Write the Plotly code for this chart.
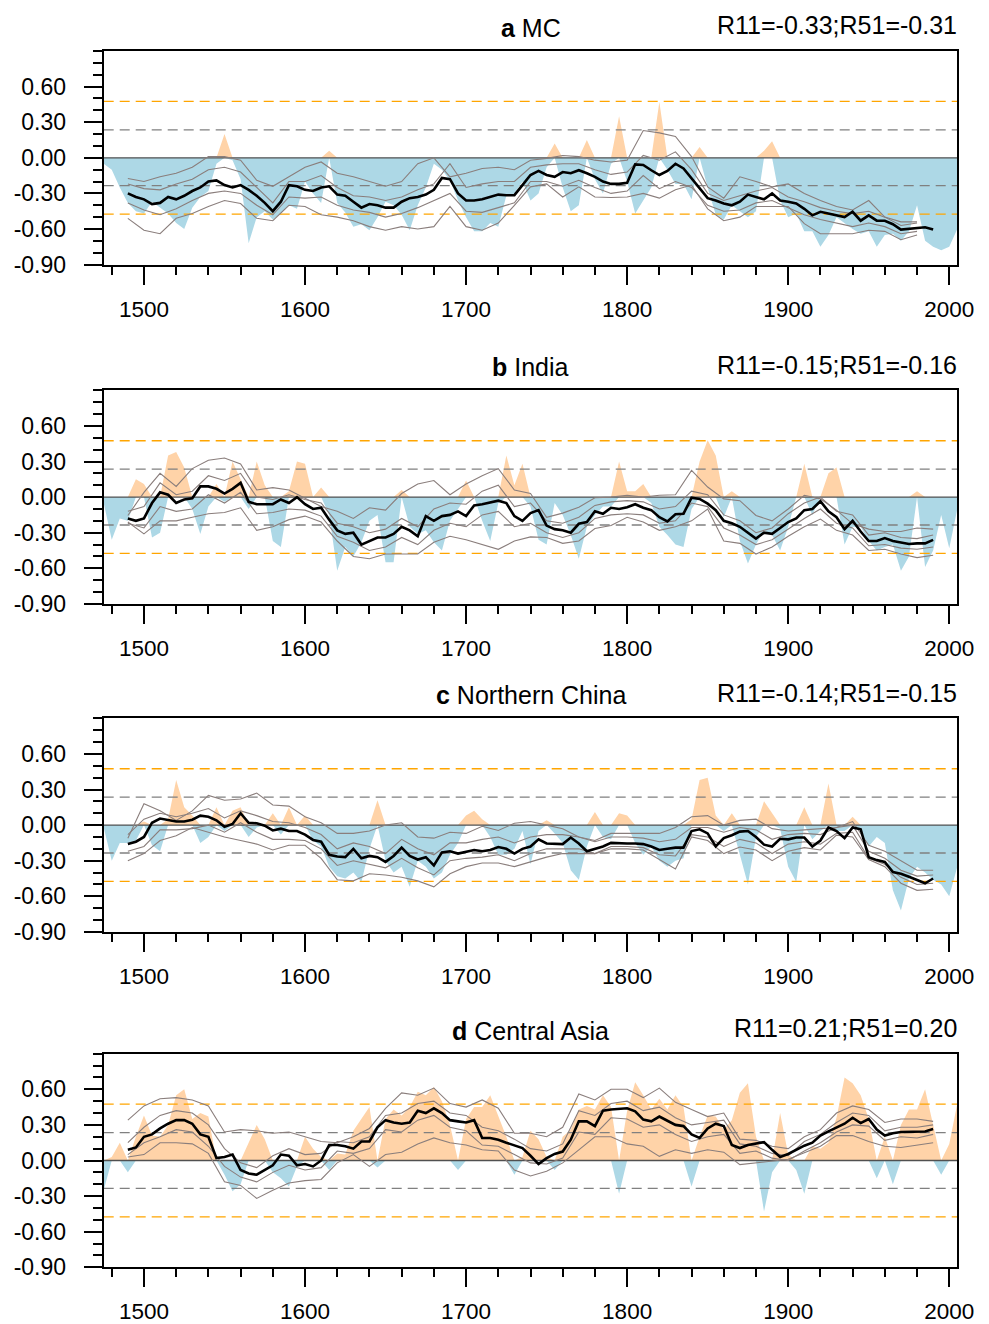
import plotly.graph_objects as go

# ---------------- data ----------------
FILL_YEARS = list(range(1475, 2006, 5))      # yearly correlation (filled)
MEAN_YEARS = list(range(1490, 1991, 5))      # ensemble mean (black)
MEMBER_YEARS = list(range(1490, 1991, 10))   # members (grey)

PANEL_LETTERS = ["a", "b", "c", "d"]
PANEL_NAMES = ["MC", "India", "Northern China", "Central Asia"]
R11 = ["-0.33", "-0.15", "-0.14", "0.21"]
R51 = ["-0.31", "-0.16", "-0.15", "0.20"]

THRESH_INNER = 0.235
THRESH_OUTER = 0.475

X_TICKS = [1500, 1600, 1700, 1800, 1900, 2000]
Y_TICKS = [-0.9, -0.6, -0.3, 0.0, 0.3, 0.6]
X_RANGE = [1475, 2005]
Y_RANGE = [-0.9, 0.9]

FILL_MC = [-0.05, -0.10, -0.25, -0.38, -0.45, -0.47, -0.37, -0.42, -0.47, -0.55,
           -0.60, -0.42, -0.33, -0.28, -0.05, 0.20, -0.02, -0.18, -0.72, -0.50,
           -0.45, -0.52, -0.47, -0.40, -0.43, -0.20, -0.30, -0.38, 0.06, -0.38,
           -0.46, -0.58, -0.56, -0.61, -0.50, -0.37, -0.40, -0.48, -0.61, -0.40,
           -0.25, -0.05, -0.10, -0.19, -0.36, -0.50, -0.62, -0.62, -0.55, -0.58,
           -0.32, -0.30, -0.20, -0.36, -0.30, -0.08, 0.12, -0.25, -0.45, -0.40,
           0.15, -0.18, -0.30, -0.05, 0.35, -0.20, -0.47, -0.36, -0.25, 0.47,
           -0.10, -0.22, -0.22, -0.35, 0.09, -0.25, -0.48, -0.52, -0.40, -0.45,
           -0.50, -0.45, 0.06, 0.14, -0.36, -0.50, -0.47, -0.62, -0.62, -0.75,
           -0.65, -0.50, -0.55, -0.60, -0.64, -0.62, -0.75, -0.65, -0.64, -0.70,
           -0.62, -0.40, -0.70, -0.75, -0.78, -0.75, -0.60]
FILL_INDIA = [-0.05, -0.36, -0.18, -0.20, 0.15, 0.11, -0.34, -0.30, 0.35, 0.38,
              0.25, -0.10, -0.31, -0.08, 0.11, -0.04, 0.30, 0.15, -0.10, 0.30,
              0.10, -0.37, -0.42, 0.05, 0.30, 0.28, 0.00, 0.08, -0.15, -0.62,
              -0.42, -0.50, -0.38, -0.20, -0.15, -0.55, -0.55, 0.06, -0.25, -0.31,
              -0.28, -0.38, -0.45, -0.20, -0.10, 0.14, 0.00, -0.20, -0.37, -0.05,
              0.35, 0.10, 0.28, -0.08, -0.36, -0.40, -0.05, -0.15, -0.32, -0.52,
              -0.25, -0.15, -0.08, -0.08, 0.30, 0.05, 0.05, 0.11, -0.05, -0.25,
              -0.32, -0.40, -0.42, -0.10, 0.30, 0.48, 0.35, -0.17, 0.05, -0.37,
              -0.56, -0.40, -0.28, -0.32, -0.45, -0.25, 0.00, 0.28, -0.15, 0.00,
              0.20, 0.25, -0.40, -0.25, -0.25, -0.37, -0.45, -0.42, -0.40, -0.62,
              -0.50, 0.05, -0.59, -0.45, -0.15, -0.43, -0.10]
FILL_NCHINA = [-0.02, -0.30, -0.15, -0.15, -0.13, 0.03, -0.17, -0.22, 0.05, 0.38,
               0.15, 0.08, -0.15, -0.10, 0.15, -0.05, 0.12, 0.15, -0.10, -0.02,
               0.00, 0.10, -0.08, 0.15, 0.00, 0.08, -0.13, -0.18, -0.35, -0.43,
               -0.45, -0.40, -0.48, -0.20, 0.21, -0.30, -0.40, -0.35, -0.52, -0.30,
               -0.35, -0.45, -0.40, -0.25, -0.15, 0.08, 0.12, 0.05, -0.10, -0.25,
               -0.25, -0.20, -0.05, -0.33, -0.05, 0.04, -0.07, -0.15, -0.38, -0.46,
               -0.18, 0.11, -0.10, -0.12, 0.10, 0.08, -0.15, -0.25, -0.18, -0.30,
               -0.35, -0.30, -0.28, 0.05, 0.38, 0.40, 0.08, -0.05, 0.10, -0.25,
               -0.50, -0.10, 0.20, 0.10, -0.03, -0.35, -0.48, 0.15, -0.12, -0.05,
               0.35, -0.05, -0.05, 0.07, -0.05, -0.18, -0.10, -0.15, -0.55, -0.72,
               -0.45, -0.35, -0.40, -0.46, -0.50, -0.60, -0.35]
FILL_CASIA = [-0.25, 0.03, 0.15, -0.10, 0.20, 0.38, 0.21, 0.20, 0.30, 0.55,
              0.60, 0.35, 0.40, 0.37, 0.00, -0.12, -0.26, -0.20, 0.15, 0.30,
              0.18, -0.10, -0.15, -0.22, -0.05, 0.20, 0.10, 0.03, -0.08, 0.06,
              0.05, 0.25, 0.35, 0.45, -0.06, 0.35, 0.43, 0.38, 0.45, 0.58,
              0.55, 0.62, 0.50, 0.30, -0.08, 0.35, 0.45, 0.45, 0.55, 0.38,
              0.20, -0.12, 0.03, 0.25, 0.18, 0.03, -0.08, 0.20, 0.26, 0.43,
              0.46, 0.43, 0.55, 0.45, -0.28, 0.42, 0.66, 0.55, 0.43, 0.52,
              0.43, 0.55, 0.45, -0.22, 0.20, 0.38, 0.37, 0.26, 0.34, 0.57,
              0.65, 0.20, -0.43, -0.10, 0.40, 0.05, -0.08, -0.28, 0.12, 0.10,
              0.15, 0.36, 0.70, 0.65, 0.55, 0.35, -0.15, 0.20, -0.20, 0.30,
              0.43, 0.43, 0.60, 0.30, -0.12, 0.14, 0.48]

MEAN_MC = [-0.30, -0.33, -0.35, -0.39, -0.38, -0.33, -0.35, -0.32, -0.28, -0.25,
           -0.20, -0.19, -0.23, -0.25, -0.23, -0.27, -0.32, -0.38, -0.45, -0.37,
           -0.23, -0.24, -0.27, -0.28, -0.25, -0.24, -0.31, -0.32, -0.37, -0.42,
           -0.39, -0.40, -0.42, -0.42, -0.37, -0.34, -0.33, -0.31, -0.27, -0.17,
           -0.18, -0.30, -0.36, -0.36, -0.35, -0.33, -0.31,
           -0.315, -0.315, -0.23, -0.145, -0.11, -0.145, -0.16, -0.12, -0.13, -0.105,
           -0.13, -0.16, -0.20, -0.22, -0.22, -0.21, -0.055, -0.06, -0.105, -0.145,
           -0.11, -0.05, -0.09, -0.175, -0.26, -0.34, -0.36, -0.385, -0.40, -0.37,
           -0.31, -0.33, -0.35, -0.30, -0.36, -0.37, -0.385, -0.43, -0.485, -0.455,
           -0.47, -0.485, -0.50, -0.455, -0.53, -0.485, -0.53, -0.53, -0.56, -0.605,
           -0.60, -0.59, -0.585, -0.605]
MEAN_INDIA = [-0.18, -0.20, -0.18, -0.05, 0.04, 0.02, -0.05, -0.02, -0.01, 0.09,
              0.09, 0.07, 0.03, 0.07, 0.12, -0.04, -0.06, -0.06, -0.06, -0.02,
              -0.05, 0.00, -0.06, -0.10, -0.09, -0.19, -0.28, -0.31, -0.30, -0.40,
              -0.37, -0.34, -0.34, -0.31, -0.25, -0.28, -0.33, -0.16, -0.20, -0.16,
              -0.15, -0.12, -0.16, -0.07, -0.06, -0.045, -0.03,
              -0.05, -0.16, -0.20, -0.135, -0.11, -0.24, -0.27, -0.28, -0.30, -0.225,
              -0.21, -0.12, -0.14, -0.09, -0.10, -0.085, -0.06, -0.09, -0.11, -0.17,
              -0.205, -0.145, -0.14, -0.005, -0.015, -0.055, -0.11, -0.20, -0.22, -0.25,
              -0.30, -0.35, -0.30, -0.31, -0.26, -0.21, -0.18, -0.11, -0.10, -0.035,
              -0.12, -0.17, -0.27, -0.20, -0.29, -0.37, -0.37, -0.345, -0.37, -0.38,
              -0.395, -0.39, -0.39, -0.36]
MEAN_NCHINA = [-0.16, -0.14, -0.10, 0.02, 0.055, 0.045, 0.03, 0.03, 0.045, 0.08,
               0.07, 0.04, -0.015, 0.01, 0.10, 0.02, 0.015, -0.005, -0.045, -0.03,
               -0.05, -0.05, -0.08, -0.125, -0.14, -0.25, -0.265, -0.27, -0.20, -0.28,
               -0.26, -0.27, -0.31, -0.26, -0.19, -0.26, -0.29, -0.27, -0.34, -0.23,
               -0.22, -0.24, -0.225, -0.21, -0.22, -0.21, -0.185,
               -0.20, -0.24, -0.20, -0.18, -0.12, -0.155, -0.155, -0.16, -0.105, -0.155,
               -0.22, -0.20, -0.18, -0.15, -0.155, -0.155, -0.155, -0.16, -0.18, -0.21,
               -0.20, -0.19, -0.19, -0.05, -0.035, -0.07, -0.18, -0.11, -0.085, -0.055,
               -0.05, -0.10, -0.165, -0.18, -0.115, -0.12, -0.105, -0.105, -0.18, -0.13,
               -0.02, -0.05, -0.11, -0.02, -0.035, -0.27, -0.295, -0.31, -0.395, -0.41,
               -0.435, -0.46, -0.49, -0.45]
MEAN_CASIA = [0.09, 0.11, 0.20, 0.22, 0.27, 0.31, 0.34, 0.34, 0.31, 0.22,
              0.20, 0.02, 0.03, 0.05, -0.08, -0.11, -0.12, -0.08, -0.04, 0.05,
              0.04, -0.04, -0.03, -0.05, 0.00, 0.13, 0.13, 0.12, 0.10, 0.16,
              0.16, 0.28, 0.34, 0.32, 0.31, 0.32, 0.42, 0.40, 0.44, 0.40,
              0.34, 0.33, 0.32, 0.34, 0.19, 0.19, 0.175,
              0.15, 0.13, 0.105, 0.04, -0.03, 0.02, 0.055, 0.075, 0.175, 0.33,
              0.33, 0.29, 0.42, 0.43, 0.435, 0.44, 0.415, 0.345, 0.33, 0.37,
              0.335, 0.30, 0.29, 0.22, 0.19, 0.27, 0.31, 0.29, 0.13, 0.105,
              0.13, 0.145, 0.155, 0.09, 0.03, 0.055, 0.09, 0.125, 0.15, 0.21,
              0.245, 0.28, 0.31, 0.36, 0.315, 0.35, 0.26, 0.21, 0.23, 0.24,
              0.24, 0.24, 0.245, 0.265]

# grey ensemble members (10-year samples)
MC_M1 = [-0.175, -0.20, -0.16, -0.13, -0.08, 0.01, 0.01, -0.02, -0.19, -0.24,
         -0.16, -0.08, -0.035, -0.13, -0.16, -0.20, -0.24, -0.20, -0.05, 0.0,
         -0.16, -0.13, -0.09, -0.08, -0.10, -0.02, -0.005, 0.02, 0.01, -0.02,
         -0.035, -0.02, 0.23, 0.21, 0.18, 0.01, -0.245, -0.34, -0.16, -0.20,
         -0.245, -0.22, -0.30, -0.36, -0.41, -0.44, -0.36, -0.50, -0.54, -0.54]
MC_M2 = [-0.22, -0.26, -0.27, -0.22, -0.18, -0.10, -0.08, -0.12, -0.25, -0.38,
         -0.20, -0.20, -0.15, -0.25, -0.32, -0.33, -0.36, -0.33, -0.27, -0.22,
         -0.05, -0.25, -0.22, -0.20, -0.20, -0.08, -0.06, -0.05, -0.05, -0.10,
         -0.14, -0.12, 0.02, -0.02, 0.05, -0.10, -0.30, -0.36, -0.32, -0.28,
         -0.25, -0.33, -0.37, -0.42, -0.45, -0.47, -0.45, -0.50, -0.57, -0.55]
MC_M3 = [-0.38, -0.44, -0.48, -0.43, -0.36, -0.30, -0.28, -0.30, -0.40, -0.48,
         -0.33, -0.34, -0.33, -0.40, -0.44, -0.46, -0.50, -0.47, -0.42, -0.36,
         -0.30, -0.45, -0.46, -0.42, -0.38, -0.20, -0.20, -0.24, -0.19, -0.25,
         -0.30, -0.28, -0.15, -0.26, -0.20, -0.25, -0.40, -0.45, -0.44, -0.38,
         -0.36, -0.42, -0.48, -0.52, -0.55, -0.58, -0.55, -0.58, -0.64, -0.62]
MC_M4 = [-0.51, -0.61, -0.64, -0.51, -0.47, -0.41, -0.36, -0.385, -0.51, -0.53,
         -0.40, -0.41, -0.48, -0.50, -0.53, -0.58, -0.61, -0.58, -0.60, -0.58,
         -0.41, -0.58, -0.61, -0.55, -0.40, -0.245, -0.22, -0.33, -0.245, -0.33,
         -0.335, -0.33, -0.30, -0.34, -0.27, -0.23, -0.43, -0.53, -0.50, -0.41,
         -0.41, -0.41, -0.555, -0.64, -0.64, -0.64, -0.61, -0.62, -0.69, -0.65]

INDIA_M1 = [-0.155, 0.04, 0.20, 0.09, 0.24, 0.31, 0.33, 0.28, 0.06, 0.08,
            0.06, -0.01, -0.08, -0.12, -0.18, -0.09, -0.11, 0.03, 0.11, 0.14,
            0.02, 0.11, 0.18, 0.24, 0.06, 0.03, -0.17, -0.135, -0.085, -0.005,
            0.0, 0.015, 0.0, 0.015, 0.02, 0.225, 0.085, -0.015, -0.03, -0.155,
            -0.20, -0.10, 0.015, -0.015, -0.11, -0.225, -0.27, -0.29, -0.29, -0.26,
            -0.27]
INDIA_M2 = [-0.12, -0.08, 0.12, 0.02, 0.05, 0.18, 0.14, 0.20, 0.00, -0.02,
            0.02, -0.02, -0.05, -0.22, -0.25, -0.30, -0.27, -0.18, -0.25, -0.10,
            -0.05, -0.06, 0.05, 0.10, -0.08, -0.05, -0.20, -0.22, -0.17, -0.07,
            -0.04, -0.03, -0.04, -0.10, -0.08, 0.05, 0.02, -0.15, -0.20, -0.30,
            -0.26, -0.14, -0.05, 0.00, -0.12, -0.15, -0.32, -0.30, -0.34, -0.35,
            -0.32]
INDIA_M3 = [-0.22, -0.26, -0.08, -0.12, -0.10, 0.02, -0.05, 0.04, -0.14, -0.13,
            -0.10, -0.11, -0.16, -0.33, -0.38, -0.45, -0.42, -0.34, -0.40, -0.28,
            -0.22, -0.25, -0.15, -0.12, -0.25, -0.22, -0.30, -0.34, -0.30, -0.18,
            -0.15, -0.14, -0.15, -0.22, -0.20, -0.05, -0.08, -0.26, -0.32, -0.40,
            -0.36, -0.27, -0.18, -0.10, -0.22, -0.26, -0.41, -0.40, -0.43, -0.44,
            -0.42]
INDIA_M4 = [-0.21, -0.31, -0.20, -0.20, -0.17, -0.14, -0.13, -0.09, -0.28, -0.25,
            -0.19, -0.16, -0.21, -0.37, -0.50, -0.52, -0.48, -0.48, -0.48, -0.38,
            -0.33, -0.36, -0.40, -0.44, -0.37, -0.335, -0.34, -0.39, -0.37, -0.265,
            -0.24, -0.17, -0.21, -0.28, -0.25, -0.20, -0.10, -0.37, -0.39, -0.48,
            -0.42, -0.33, -0.25, -0.185, -0.28, -0.32, -0.45, -0.44, -0.48, -0.51,
            -0.49]

NCHINA_M1 = [-0.11, 0.18, 0.12, 0.04, 0.12, 0.25, 0.21, 0.22, 0.27, 0.17,
             0.16, 0.07, 0.02, -0.07, -0.07, -0.05, 0.0, 0.02, -0.10, -0.11,
             -0.06, -0.07, -0.01, -0.045, 0.015, 0.03, 0.0, -0.03, -0.10, -0.13,
             -0.07, -0.07, -0.07, -0.07, -0.02, 0.07, 0.08, 0.0, 0.04, 0.05,
             -0.03, -0.05, -0.04, -0.03, -0.02, 0.03, -0.17, -0.22, -0.30, -0.38,
             -0.38]
NCHINA_M2 = [-0.08, 0.05, 0.10, 0.07, 0.10, 0.14, 0.06, 0.12, 0.08, 0.03,
             0.02, -0.02, -0.08, -0.20, -0.15, -0.18, -0.24, -0.12, -0.20, -0.25,
             -0.15, -0.15, -0.12, -0.10, -0.15, -0.10, -0.08, -0.08, -0.10, -0.14,
             -0.10, -0.10, -0.11, -0.14, -0.12, -0.02, -0.02, -0.06, -0.02, -0.04,
             -0.12, -0.08, -0.07, -0.08, -0.02, 0.00, -0.22, -0.28, -0.38, -0.43,
             -0.42]
NCHINA_M3 = [-0.22, -0.18, -0.04, -0.04, -0.03, 0.00, -0.06, 0.02, -0.06, -0.12,
             -0.12, -0.13, -0.20, -0.34, -0.30, -0.33, -0.36, -0.28, -0.36, -0.42,
             -0.30, -0.28, -0.27, -0.25, -0.30, -0.24, -0.20, -0.20, -0.20, -0.24,
             -0.18, -0.18, -0.19, -0.25, -0.26, -0.08, -0.10, -0.18, -0.12, -0.15,
             -0.24, -0.16, -0.14, -0.16, -0.07, -0.06, -0.28, -0.33, -0.44, -0.50,
             -0.49]
NCHINA_M4 = [-0.30, -0.24, -0.13, -0.09, -0.02, -0.06, -0.10, -0.13, -0.16, -0.21,
             -0.17, -0.17, -0.28, -0.46, -0.47, -0.41, -0.42, -0.44, -0.47, -0.52,
             -0.41, -0.35, -0.32, -0.32, -0.35, -0.31, -0.27, -0.24, -0.24, -0.24,
             -0.20, -0.20, -0.21, -0.29, -0.37, -0.10, -0.13, -0.24, -0.185, -0.21,
             -0.30, -0.22, -0.19, -0.21, -0.085, -0.10, -0.29, -0.35, -0.49, -0.55,
             -0.54]

CASIA_M1 = [0.34, 0.46, 0.52, 0.53, 0.51, 0.46, 0.24, 0.26, 0.25, 0.23,
            0.24, 0.20, 0.16, 0.15, 0.20, 0.27, 0.44, 0.57, 0.55, 0.61,
            0.48, 0.45, 0.51, 0.44, 0.23, 0.23, 0.20, 0.28, 0.56, 0.51,
            0.60, 0.60, 0.53, 0.61, 0.49, 0.43, 0.37, 0.40, 0.18, 0.17,
            0.12, 0.10, 0.20, 0.26, 0.40, 0.46, 0.43, 0.32, 0.35, 0.35,
            0.33]
CASIA_M2 = [0.15, 0.28, 0.38, 0.42, 0.40, 0.30, 0.10, -0.02, -0.06, 0.04,
            0.10, 0.05, 0.06, 0.16, 0.15, 0.20, 0.38, 0.40, 0.48, 0.50,
            0.40, 0.38, 0.28, 0.25, 0.18, 0.10, 0.08, 0.14, 0.42, 0.38,
            0.48, 0.50, 0.42, 0.45, 0.36, 0.30, 0.32, 0.34, 0.14, 0.12,
            0.06, 0.04, 0.16, 0.22, 0.32, 0.40, 0.38, 0.25, 0.28, 0.28,
            0.30]
CASIA_M3 = [0.05, 0.15, 0.20, 0.26, 0.24, 0.12, -0.05, -0.14, -0.18, -0.10,
            -0.04, -0.08, -0.06, 0.08, 0.06, 0.10, 0.26, 0.24, 0.34, 0.38,
            0.28, 0.25, 0.13, 0.12, 0.05, -0.02, -0.03, 0.02, 0.24, 0.22,
            0.36, 0.35, 0.28, 0.30, 0.22, 0.16, 0.20, 0.22, 0.06, 0.08,
            0.02, 0.00, 0.08, 0.15, 0.24, 0.30, 0.29, 0.17, 0.20, 0.19,
            0.22]
CASIA_M4 = [0.03, 0.05, 0.15, 0.15, 0.14, 0.06, -0.18, -0.21, -0.32, -0.25,
            -0.19, -0.17, -0.16, -0.02, 0.05, -0.05, 0.05, 0.07, 0.14, 0.19,
            0.15, 0.13, 0.09, 0.08, -0.08, -0.13, -0.09, -0.02, 0.09, 0.20,
            0.20, 0.14, 0.12, 0.035, 0.09, 0.06, 0.09, 0.07, -0.035, -0.02,
            -0.01, 0.01, 0.065, 0.12, 0.21, 0.21, 0.16, 0.12, 0.11, 0.13,
            0.15]

FILLS = [FILL_MC, FILL_INDIA, FILL_NCHINA, FILL_CASIA]
MEANS = [MEAN_MC, MEAN_INDIA, MEAN_NCHINA, MEAN_CASIA]
MEMBERS = [[MC_M1, MC_M2, MC_M3, MC_M4],
           [INDIA_M1, INDIA_M2, INDIA_M3, INDIA_M4],
           [NCHINA_M1, NCHINA_M2, NCHINA_M3, NCHINA_M4],
           [CASIA_M1, CASIA_M2, CASIA_M3, CASIA_M4]]

for f in FILLS:
    assert len(f) == len(FILL_YEARS), len(f)
for m in MEANS:
    assert len(m) == len(MEAN_YEARS), len(m)

# ---------------- layout / style ----------------
W, H = 989, 1324
BOX_LEFT, BOX_RIGHT = 103.7, 957.3
BOX_TOPS = [51.0, 390.3, 718.3, 1053.7]
BOX_H = 213.6
FONT = "Liberation Sans, Arial, Helvetica, sans-serif"
POS_COLOR = "#FFD3A8"
NEG_COLOR = "#ADD8E6"
MEMBER_COLOR = "#8a7e7c"
ORANGE = "#FFA500"
DGRAY = "#808080"

fig = go.Figure()
annotations = []
layout = {}

xdom = [BOX_LEFT / W, BOX_RIGHT / W]

for i in range(4):
    ax = "" if i == 0 else str(i + 1)
    xr, yr = "x" + ax, "y" + ax
    top = BOX_TOPS[i]
    ydom = [1 - (top + BOX_H) / H, 1 - top / H]

    vals = FILLS[i]
    pos = [max(v, 0.0) for v in vals]
    neg = [min(v, 0.0) for v in vals]
    fig.add_trace(go.Scatter(x=FILL_YEARS, y=neg, mode="lines", line=dict(width=0),
                             fill="tozeroy", fillcolor=NEG_COLOR, xaxis=xr, yaxis=yr,
                             hoverinfo="skip", showlegend=False))
    fig.add_trace(go.Scatter(x=FILL_YEARS, y=pos, mode="lines", line=dict(width=0),
                             fill="tozeroy", fillcolor=POS_COLOR, xaxis=xr, yaxis=yr,
                             hoverinfo="skip", showlegend=False))

    for lvl, col in [(THRESH_OUTER, ORANGE), (-THRESH_OUTER, ORANGE),
                     (THRESH_INNER, DGRAY), (-THRESH_INNER, DGRAY)]:
        fig.add_trace(go.Scatter(x=X_RANGE, y=[lvl, lvl], mode="lines",
                                 line=dict(color=col, width=1.3, dash="10px,6px"),
                                 xaxis=xr, yaxis=yr, hoverinfo="skip", showlegend=False))
    fig.add_trace(go.Scatter(x=X_RANGE, y=[0, 0], mode="lines",
                             line=dict(color="#505050", width=1.3),
                             xaxis=xr, yaxis=yr, hoverinfo="skip", showlegend=False))

    for mem in MEMBERS[i]:
        fig.add_trace(go.Scatter(x=MEMBER_YEARS[:len(mem)], y=mem, mode="lines",
                                 line=dict(color=MEMBER_COLOR, width=1.1),
                                 xaxis=xr, yaxis=yr, hoverinfo="skip", showlegend=False))
    fig.add_trace(go.Scatter(x=MEAN_YEARS, y=MEANS[i], mode="lines",
                             line=dict(color="black", width=2.6),
                             xaxis=xr, yaxis=yr, hoverinfo="skip", showlegend=False))

    layout["xaxis" + ax] = dict(
        domain=xdom, anchor=yr, range=X_RANGE, tickmode="array", tickvals=X_TICKS,
        ticktext=[str(t) for t in X_TICKS], ticks="outside", ticklen=18, tickwidth=2,
        tickcolor="black", showline=True, mirror=True, linecolor="black", linewidth=2,
        showgrid=False, zeroline=False, ticklabelstandoff=5, automargin=False,
        tickfont=dict(family=FONT, size=22.5, color="black"),
        minor=dict(ticks="outside", dtick=20, tick0=1480, ticklen=8, tickwidth=2,
                   tickcolor="black", showgrid=False))
    layout["yaxis" + ax] = dict(
        domain=ydom, anchor=xr, range=Y_RANGE, tickmode="array", tickvals=Y_TICKS,
        ticktext=["%.2f" % t for t in Y_TICKS], ticks="outside", ticklen=18, tickwidth=2,
        tickcolor="black", showline=True, mirror=True, linecolor="black", linewidth=2,
        showgrid=False, zeroline=False, ticklabelstandoff=13, automargin=False,
        tickfont=dict(family=FONT, size=23, color="black"),
        minor=dict(ticks="outside", dtick=0.1, tick0=0, ticklen=9, tickwidth=2,
                   tickcolor="black", showgrid=False))

    annotations.append(dict(
        text="<b>%s</b> %s" % (PANEL_LETTERS[i], PANEL_NAMES[i]),
        xref="paper", yref="paper", x=(BOX_LEFT + BOX_RIGHT) / 2 / W,
        y=1 - (top - 23) / H, xanchor="center", yanchor="middle", showarrow=False,
        font=dict(family=FONT, size=25, color="black")))
    annotations.append(dict(
        text="R11=%s;R51=%s" % (R11[i], R51[i]),
        xref="paper", yref="paper", x=958.5 / W, y=1 - (top - 25.7) / H,
        xanchor="right", yanchor="middle", showarrow=False,
        font=dict(family=FONT, size=25, color="black")))

fig.update_layout(width=W, height=H, margin=dict(l=0, r=0, t=0, b=0, autoexpand=False),
                  paper_bgcolor="white", plot_bgcolor="white",
                  showlegend=False, annotations=annotations, **layout)

fig.write_html("out.html")
